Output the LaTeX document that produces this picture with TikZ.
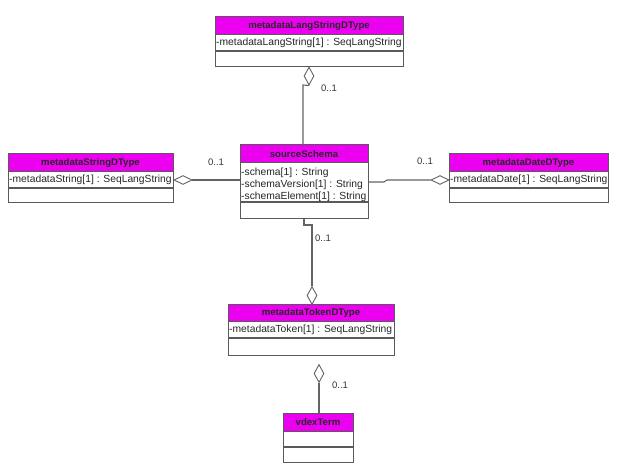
\documentclass[tikz,border=0pt]{standalone}
\usepackage{fontspec}
\setmainfont{Liberation Sans}
\usetikzlibrary{shapes.geometric,fit}
\definecolor{hdrcol}{RGB}{236,0,240}
\definecolor{edgecol}{RGB}{90,90,90}
\definecolor{linecol}{RGB}{100,100,100}
\tikzset{
  classbox/.style={draw=edgecol,line width=1pt,inner sep=0pt},
  divider/.style={draw=edgecol,line width=0.8pt},
  thickdiv/.style={draw=edgecol,line width=1.6pt},
  titletext/.style={font=\fontsize{9.6}{10}\selectfont\bfseries,inner sep=0pt,text=black!85},
  attrtext/.style={font=\fontsize{10.3}{11}\selectfont,inner sep=0pt,anchor=west,text=black!85},
  multlabel/.style={font=\fontsize{9.5}{10}\selectfont,inner sep=0pt,text=black!80},
  conn/.style={draw=linecol,line width=1.1pt},
  vdiamond/.style={diamond,draw=linecol,line width=0.9pt,fill=white,inner sep=0pt,minimum width=10pt,minimum height=18pt},
  hdiamond/.style={diamond,draw=linecol,line width=0.9pt,fill=white,inner sep=0pt,minimum width=18pt,minimum height=9pt}
}
\newcommand\umlbox[8]{%
  \fill[hdrcol] (#2,#3) rectangle (#4,#6);
  \node[classbox,fit={(#2,#3)(#4,#5)}] (#1) {};
  \draw[divider] (#2,#6) -- (#4,#6);
  \draw[thickdiv] (#2,#7) -- (#4,#7);
  \node[titletext] at ({(#2+#4)/2},{(#3+#6)/2+0.5}) {#8};
}
\begin{document}
\begin{tikzpicture}[x=1pt,y=-1pt]
\useasboundingbox (0,0) rectangle (618,473);
\fill[white] (0,0) rectangle (618,473);

% classes
\umlbox{lang}{215}{17}{403}{67}{34}{51}{metadataLangStringDType}
\node[attrtext] at (216,43) {-metadataLangString[1] : SeqLangString};

\umlbox{str}{8}{154}{173}{203}{171}{188}{metadataStringDType}
\node[attrtext] at (9,180) {-metadataString[1] : SeqLangString};

\umlbox{date}{449}{154}{608}{203}{171}{188}{metadataDateDType}
\node[attrtext] at (450,180) {-metadataDate[1] : SeqLangString};

\umlbox{src}{240}{145}{368}{218}{162}{202}{sourceSchema}
\node[attrtext] at (241,173) {-schema[1] : String};
\node[attrtext] at (241,185) {-schemaVersion[1] : String};
\node[attrtext] at (241,197) {-schemaElement[1] : String};

\umlbox{tok}{228}{304}{394}{355}{321}{338}{metadataTokenDType}
\node[attrtext] at (229,330) {-metadataToken[1] : SeqLangString};

\umlbox{vdex}{283}{413}{353}{462}{431}{447}{vdexTerm}

% diamonds
\node[vdiamond] (d1) at (309,76) {};
\node[hdiamond] (d2) at (183,180) {};
\node[hdiamond] (d3) at (440,180) {};
\node[vdiamond] (d4) at (312,295.5) {};
\node[vdiamond] (d5) at (319,373.5) {};

% connectors
\coordinate (j1) at (303,85);
\draw[conn] (d1.south) -- (j1) -- (j1 |- src.north);

\draw[conn] (d2.east) -- (src.west |- d2.east);

\coordinate (j3a) at (384,182);
\coordinate (j3b) at (387,180);
\draw[conn] (src.east |- j3a) -- (j3a) -- (j3b) -- (d3.west);

\coordinate (j4a) at (304,225);
\coordinate (j4b) at (312,225);
\draw[conn] (j4a |- src.south) -- (j4a) -- (j4b) -- (d4.north);

\draw[conn] (d5.south) -- (d5.south |- vdex.north);

% multiplicities
\node[multlabel] at (329,88) {0..1};
\node[multlabel] at (216,162) {0..1};
\node[multlabel] at (425,161) {0..1};
\node[multlabel] at (323,238) {0..1};
\node[multlabel] at (340,385) {0..1};
\end{tikzpicture}
\end{document}
